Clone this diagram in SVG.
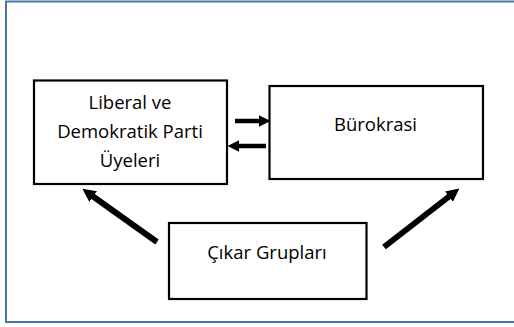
<svg xmlns="http://www.w3.org/2000/svg" width="514" height="327" viewBox="0 0 514 327">
<defs>
<style>
.box{fill:#fff;stroke:#000;stroke-width:2.2}
.t{font-family:"Open Sans","Liberation Sans",sans-serif;font-size:18.5px;fill:#000;text-anchor:middle}
.c{stroke:#000;fill:none}
</style>
<marker id="ah" viewBox="0 0 10 10" refX="2" refY="5" markerWidth="2.6" markerHeight="2.6" orient="auto" markerUnits="strokeWidth">
<path d="M0,0 L10,5 L0,10 z" fill="#000"/>
</marker>
<marker id="ah2" viewBox="0 0 10 10" refX="2" refY="5" markerWidth="2.2" markerHeight="2.2" orient="auto" markerUnits="strokeWidth">
<path d="M0,0 L10,5 L0,10 z" fill="#000"/>
</marker>
</defs>
<rect x="0" y="0" width="514" height="327" fill="#fff"/>
<rect x="6" y="1.5" width="514" height="320.5" fill="none" stroke="#4a76a8" stroke-width="2"/>
<g id="connectors">
<line class="c" x1="235" y1="121" x2="261" y2="121" stroke-width="4.5" marker-end="url(#ah)"/>
<line class="c" x1="266" y1="146" x2="237" y2="146" stroke-width="4.5" marker-end="url(#ah)"/>
<line class="c" x1="157" y1="242" x2="91" y2="195" stroke-width="6" marker-end="url(#ah2)"/>
<line class="c" x1="384" y1="247" x2="451" y2="195" stroke-width="6" marker-end="url(#ah2)"/>
</g>
<g id="node-liberal">
<rect class="box" x="34" y="80.5" width="193" height="103.5"/>
<text class="t" x="130" y="109">Liberal ve</text>
<text class="t" x="130" y="138">Demokratik Parti</text>
<text class="t" x="130" y="167">Üyeleri</text>
</g>
<g id="node-burokrasi">
<rect class="box" x="269.5" y="86" width="213.5" height="93"/>
<text class="t" x="375.5" y="131">Bürokrasi</text>
</g>
<g id="node-cikar">
<rect class="box" x="169" y="223" width="197.5" height="76"/>
<text class="t" x="267" y="259">Çıkar Grupları</text>
</g>
</svg>
